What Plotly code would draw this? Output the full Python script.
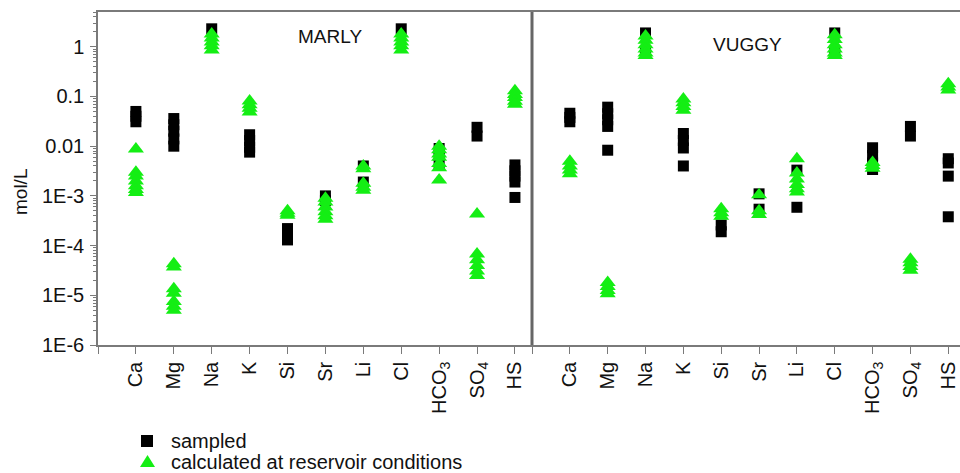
import plotly.graph_objects as go

categories = ["Ca", "Mg", "Na", "K", "Si", "Sr", "Li", "Cl", "HCO<sub>3</sub>", "SO<sub>4</sub>", "HS"]
ytick_vals = [1e-6, 1e-5, 1e-4, 1e-3, 1e-2, 1e-1, 1]
ytick_text = ["1E-6", "1E-5", "1E-4", "1E-3", "0.01", "0.1", "1"]
legend_labels = ["sampled", "calculated at reservoir conditions"]

# MARLY panel (mol/L), one list per category
marly_sampled = [
    [0.05, 0.04, 0.031],
    [0.036, 0.027, 0.02, 0.014, 0.01],
    [2.3],
    [0.017, 0.013, 0.0095, 0.0076],
    [2.2e-4, 1.7e-4, 1.3e-4],
    [1.0e-3, 8e-4],
    [4.0e-3, 1.9e-3],
    [2.3],
    [9e-3, 6.5e-3, 4.2e-3],
    [0.024, 0.016],
    [4.2e-3, 3.2e-3, 2.5e-3, 1.9e-3, 9.3e-4],
]
marly_calc = [
    [8.8e-3, 3.0e-3, 2.5e-3, 2.0e-3, 1.6e-3, 1.35e-3, 1.17e-3],
    [4.3e-5, 3.7e-5, 1.35e-5, 1.1e-5, 7.5e-6, 6e-6, 5e-6],
    [1.8, 1.5, 1.25, 1.05, 0.86],
    [0.081, 0.068, 0.058, 0.049],
    [5e-4, 4.5e-4, 4.1e-4],
    [9e-4, 7.5e-4, 6e-4, 4.8e-4, 4e-4, 3.4e-4],
    [4e-3, 3.5e-3, 1.8e-3, 1.5e-3, 1.3e-3],
    [1.8, 1.5, 1.25, 1.05, 0.86],
    [0.01, 0.0085, 0.007, 0.006, 0.0045, 0.0037, 0.0021],
    [4.3e-4, 6.8e-5, 5.2e-5, 4e-5, 3.1e-5, 2.5e-5],
    [0.13, 0.11, 0.095, 0.08, 0.07],
]

# VUGGY panel (mol/L)
vuggy_sampled = [
    [0.046, 0.038, 0.031],
    [0.061, 0.045, 0.034, 0.025, 8.3e-3],
    [1.9, 0.8],
    [0.018, 0.013, 9.2e-3, 4e-3],
    [2.6e-4, 1.9e-4],
    [1.1e-3, 5.4e-4],
    [3.3e-3, 5.9e-4],
    [1.9, 0.8],
    [9.3e-3, 6.5e-3, 4.6e-3, 3.4e-3],
    [0.025, 0.016],
    [5.6e-3, 4.6e-3, 2.5e-3, 3.8e-4],
]
vuggy_calc = [
    [5e-3, 4e-3, 3.3e-3, 2.8e-3],
    [1.8e-5, 1.5e-5, 1.25e-5, 1.07e-5],
    [1.65, 1.35, 1.1, 0.9, 0.75, 0.67],
    [0.089, 0.075, 0.063, 0.053],
    [5.5e-4, 4.6e-4, 3.9e-4],
    [1.05e-3, 5e-4, 4.2e-4],
    [5.6e-3, 2.9e-3, 2.2e-3, 1.7e-3, 1.4e-3, 1.2e-3],
    [1.75, 1.4, 1.1, 0.9, 0.75, 0.67],
    [4.7e-3, 4.1e-3, 3.6e-3],
    [5.3e-5, 4.5e-5, 3.8e-5, 3.2e-5],
    [0.18, 0.155, 0.135],
]


def flatten(groups):
    xs, ys = [], []
    for i, vals in enumerate(groups):
        for v in vals:
            xs.append(i + 1)
            ys.append(v)
    return xs, ys


BLACK = "#000000"
GREEN = "#14ee14"
FONT = "Arial, Liberation Sans, sans-serif"
AX = "#7a7a7a"
TXT = "#111111"

fig = go.Figure()
for groups, xa, kind in [
    (marly_sampled, "x", "s"),
    (vuggy_sampled, "x2", "s"),
    (marly_calc, "x", "t"),
    (vuggy_calc, "x2", "t"),
]:
    xs, ys = flatten(groups)
    if kind == "s":
        marker = dict(symbol="square", size=11, color=BLACK, line=dict(width=0))
        name = legend_labels[0]
    else:
        marker = dict(symbol="triangle-up", size=14, color=GREEN, line=dict(width=0))
        name = legend_labels[1]
    fig.add_trace(go.Scatter(x=xs, y=ys, mode="markers", marker=marker, name=name,
                             xaxis=xa, yaxis="y", showlegend=False, hoverinfo="skip",
                             cliponaxis=False))

L, R, T, B = 98, 0, 12, 128
W, H = 960, 473
pw = W - L - R
ph = H - T - B
split = (532 - L) / pw


def px(x):
    return (x - L) / pw


def py(y):
    return (H - B - y) / ph


tickvals = list(range(1, 12))

xcommon = dict(tickmode="array", tickvals=tickvals, ticktext=categories, tickangle=-90,
               ticks="outside", ticklen=7, tickcolor=AX, showline=True, linecolor=AX,
               linewidth=1.5, mirror=True, showgrid=False, zeroline=False, automargin=False,
               tickfont=dict(family=FONT, size=20, color=TXT),
               minor=dict(tickvals=[0], ticks="outside", ticklen=7, tickcolor=AX,
                          showgrid=False))

minor_vals = [k * 10 ** d for d in range(-6, 1) for k in range(2, 10)]

# legend drawn as shapes + text below the plot
sq = dict(type="rect", xref="paper", yref="paper", x0=px(141), x1=px(153), y0=py(447), y1=py(435),
          fillcolor=BLACK, line=dict(width=0))
tri = dict(type="path", xref="paper", yref="paper",
           path=f"M {px(140)} {py(467)} L {px(155)} {py(467)} L {px(147.5)} {py(455)} Z",
           fillcolor=GREEN, line=dict(width=0))
divider = dict(type="line", xref="paper", yref="paper", x0=split, x1=split, y0=0, y1=1,
               line=dict(color="#666666", width=3))

fig.update_layout(
    width=W, height=H,
    margin=dict(l=L, r=R, t=T, b=B, autoexpand=False),
    paper_bgcolor="white", plot_bgcolor="white",
    xaxis=dict(domain=[0, split], range=[0, 11.45], anchor="y", **xcommon),
    xaxis2=dict(domain=[split, 1], range=[0, 11.31], anchor="y", **xcommon),
    yaxis=dict(type="log", range=[-6, 0.7], tickmode="array", tickvals=ytick_vals,
               ticktext=ytick_text, ticks="outside", ticklen=6, tickcolor=AX,
               showline=True, linecolor=AX, linewidth=1.5, showgrid=False, zeroline=False,
               automargin=False, ticklabelstandoff=2,
               tickfont=dict(family=FONT, size=20, color=TXT),
               minor=dict(tickvals=minor_vals, ticks="outside", ticklen=3, tickcolor=AX,
                          showgrid=False)),
    showlegend=False,
    font=dict(family=FONT, color=TXT),
    shapes=[divider, sq, tri],
    annotations=[
        dict(text="MARLY", xref="paper", yref="paper", x=px(330), y=py(37),
             xanchor="center", yanchor="middle",
             showarrow=False, font=dict(family=FONT, size=19, color=TXT)),
        dict(text="VUGGY", xref="paper", yref="paper", x=px(747), y=py(45),
             xanchor="center", yanchor="middle",
             showarrow=False, font=dict(family=FONT, size=19, color=TXT)),
        dict(text="mol/L", xref="paper", yref="paper", x=px(20), y=py(192),
             xanchor="center", yanchor="middle",
             textangle=-90, showarrow=False, font=dict(family=FONT, size=19, color=TXT)),
        dict(text=legend_labels[0], xref="paper", yref="paper", x=px(169), y=py(441),
             xanchor="left", yanchor="middle",
             showarrow=False, font=dict(family=FONT, size=20, color=TXT)),
        dict(text=legend_labels[1], xref="paper", yref="paper", x=px(169), y=py(462),
             xanchor="left", yanchor="middle",
             showarrow=False, font=dict(family=FONT, size=20, color=TXT)),
    ],
)

fig.write_html("out.html", config={"displayModeBar": False})

# remove the default page margin so the figure sits at the window's corner
with open("out.html", "r", encoding="utf-8") as f:
    html = f.read()
html = html.replace("<head>", "<head><style>html,body{margin:0;padding:0;overflow:hidden;}</style>", 1)
with open("out.html", "w", encoding="utf-8") as f:
    f.write(html)
